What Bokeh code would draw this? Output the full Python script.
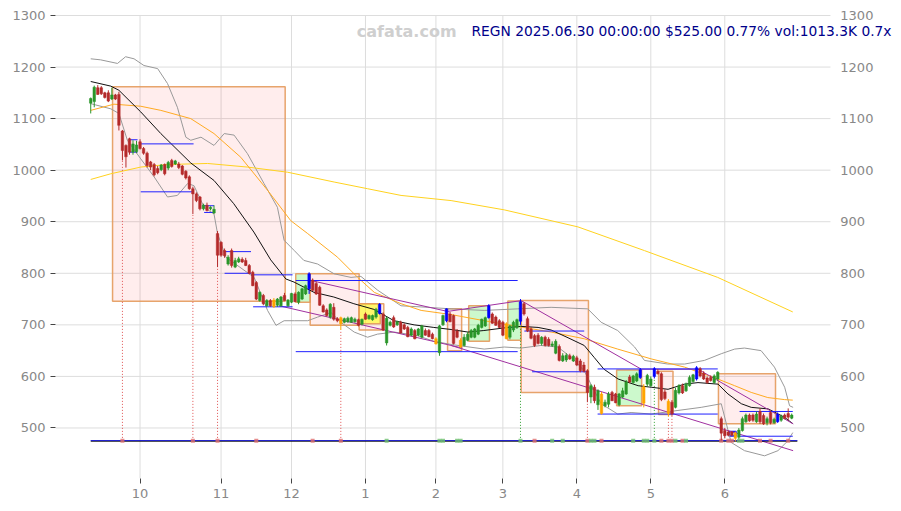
from bokeh.plotting import figure
from bokeh.models import ColumnDataSource, FixedTicker, Label, Range1d
from bokeh.embed import file_html
from bokeh.resources import INLINE

# ---------------- data (candle index 0 = 2024-09-11 ... 199 = 2025-06-30) ----------------
opens = [1130,1133,1160,1160,1150,1150,1138,1146,1147,1076,
         1048,1061,1035,1036,1055,1042,1033,1016,1011,1003,
         1001,1011,1004,1019,1012,1012,1008,998,987,964,
         954,948,925,932,925,917,877,860,844,818,
         844,812,822,827,825,815,802,782,747,757,
         737,747,748,738,737,757,737,744,760,744,
         750,760,770,787,780,773,737,729,715,734,
         712,714,705,706,705,706,710,701,721,712,
         710,715,722,721,665,699,714,700,705,700,
         695,680,689,680,676,689,689,682,673,646,
         700,708,721,718,688,670,660,670,676,676,
         682,695,698,714,721,715,708,705,702,676,
         690,695,707,741,712,692,679,680,664,676,
         672,660,645,658,630,632,640,630,636,630,
         622,611,560,579,545,566,543,546,569,566,
         545,560,566,599,588,591,598,580,585,582,
         600,610,605,570,552,550,540,568,582,572,
         582,590,595,615,606,597,598,588,595,518,
         495,492,492,490,482,495,512,525,525,512,
         532,524,510,530,510,512,515,525,528,519]
highs = [1141,1164,1165,1163,1152,1155,1160,1148,1152,1078,
         1050,1063,1058,1057,1060,1045,1036,1018,1014,1008,
         1012,1013,1018,1022,1020,1016,1010,1000,990,968,
         957,950,935,937,930,932,882,862,848,835,
         848,830,832,831,830,818,805,785,765,760,
         750,750,752,752,756,762,750,762,763,765,
         772,778,802,790,784,776,740,732,742,742,
         715,716,714,716,716,714,712,712,724,720,
         720,733,742,724,716,708,718,708,708,703,
         698,695,692,694,700,693,692,685,676,700,
         720,732,725,720,692,674,682,686,692,694,
         702,712,716,740,724,718,711,708,705,700,
         708,712,750,744,716,696,682,684,678,679,
         676,668,672,662,645,645,644,642,640,634,
         628,614,585,584,575,570,555,570,572,568,
         568,578,593,603,603,608,616,585,605,600,
         618,614,608,575,556,554,578,585,586,588,
         602,605,620,618,610,600,602,604,610,522,
         500,495,494,493,500,522,528,528,528,532,
         538,528,522,533,520,530,526,528,538,528]
lows = [1110,1122,1146,1146,1139,1132,1136,1136,1077,1019,
        1005,1030,1030,1033,1040,1030,1005,1000,988,992,
        998,990,1000,1005,1010,1002,990,982,962,915,
        938,922,922,920,922,915,812,832,830,815,
        811,810,820,820,814,798,775,748,745,738,
        735,735,733,735,735,747,735,742,744,740,
        748,758,760,766,758,737,724,716,712,708,
        705,690,703,704,704,704,697,699,710,710,
        708,712,720,688,660,697,694,698,683,690,
        676,678,672,678,674,679,676,672,662,640,
        698,705,705,662,674,655,658,668,674,674,
        680,693,696,712,702,698,694,678,672,672,
        686,692,700,718,686,672,657,662,660,658,
        658,657,643,629,628,628,632,628,620,608,
        608,550,548,548,535,526,540,540,552,548,
        542,558,564,587,586,589,595,540,580,580,
        596,604,552,554,522,524,538,565,566,570,
        580,588,592,598,593,586,590,586,592,476,
        480,484,484,474,478,493,510,512,512,510,
        508,506,505,507,508,510,512,517,515,517]
closes = [1139,1161,1147,1148,1141,1134,1146,1138,1087,1038,
          1026,1035,1051,1049,1042,1033,1009,1006,991,995,
          1010,993,1015,1007,1018,1005,992,985,964,954,
          941,925,932,922,928,924,835,835,834,831,
          815,825,828,822,815,800,776,750,763,741,
          747,737,735,750,754,747,748,761,745,763,
          770,776,799,767,760,738,725,718,740,711,
          708,702,712,713,714,711,699,711,711,718,
          718,730,740,690,713,705,696,706,684,692,
          677,692,673,692,698,680,677,673,663,698,
          718,731,706,664,676,657,676,682,689,692,
          699,711,714,737,703,699,695,680,673,698,
          705,710,745,721,688,674,660,664,676,660,
          660,663,668,631,640,641,634,639,622,611,
          610,569,582,553,572,528,550,566,553,549,
          566,572,589,589,601,605,613,548,602,595,
          615,605,555,557,528,528,573,582,568,585,
          598,603,617,601,595,588,592,601,608,490,
          485,486,486,480,496,518,525,514,515,527,
          512,508,518,510,517,526,522,519,521,525]
blue_candles = [62, 82, 101, 113, 122, 156, 160, 172, 195]
orange_candles = [52, 71, 98, 105, 118, 145, 157, 164, 183]

month_ticks = [14, 37, 57, 78, 98, 117, 138, 159, 180]
month_labels = ["10", "11", "12", "1", "2", "3", "4", "5", "6"]
price_ticks = [500, 600, 700, 800, 900, 1000, 1100, 1200, 1300]

# moving average / band lines (index, value)
black_x = [0,5.7,8,14.2,19.9,28.4,35,40.6,46.3,51.1,55.4,57.7,63.4,69,74.7,80.4,86.1,91.8,97.4,102.3,
           107.1,111.6,117.3,122.2,127,130.7,135.5,140.1,142.9,145.7,149.7,155.4,159.1,163.9,168.5,
           172.4,178.1,180.9,184.7,187.5,192.3,196.9,199.4]
black_v = [1172,1163,1155,1113,1071,1014,980,935,880,826,789,783,763,754,741,730,708,700,695,691,
           686,689,694,697,695,690,675,660,637,614,595,582,579,575,585,588,585,566,547,540,537,521,508]
upper_x = [0,2.8,7.6,9.9,12.3,15.1,19,21.8,24.6,27,28.4,31.3,35,37.9,40.7,44.5,49.2,53,54.9,57.8,
           60.5,64.4,69.1,73.9,76.7,81.5,88.1,95.7,102.3,111.7,121.2,130.7,141.1,144.9,149.6,154.4,
           157.2,163.8,168.6,174.2,179,182.8,185.6,190.3,194.1,197,198.4,199.4]
upper_v = [1216,1214,1207,1220,1216,1203,1197,1168,1122,1064,1058,1064,1048,1071,1068,1032,974,928,
           864,844,825,818,799,792,794,767,737,734,731,728,731,734,731,705,689,657,631,624,624,631,
           644,653,655,650,618,579,543,540]
lower_x = [0,5.7,8,10.4,14.2,18,21.8,24.6,27.5,29.3,32.2,35,36,38.4,46.4,50.2,52.6,54.9,57.8,61.6,
           64.4,68.2,71,74.8,78.6,81.4,86.2,92.8,97.5,102.3,111.7,117.4,122.2,127.8,132.6,136.4,
           140.1,142,144.9,149.6,153.4,159.1,166.7,173.3,179,181.8,185.6,191.3,195.1,197.9,199.3]
lower_v = [1129,1119,1110,1058,1022,987,948,951,974,970,928,915,877,831,792,728,699,708,708,708,
           715,724,705,686,676,682,686,679,668,662,653,657,655,660,657,637,611,585,547,527,530,527,
           534,540,547,472,456,446,456,475,491]
orange_x = [0,6.6,14.2,19.9,28.4,35,42.6,50.2,56.8,61.6,70.1,75.8,80.5,88.1,93.8,102.3,111.7,121.2,
            130.7,140.1,149.6,159.1,168.6,178,182.8,187.5,192.2,197,199.3]
orange_v = [1116,1128,1124,1116,1100,1071,1025,961,902,877,831,792,763,741,728,720,708,697,686,673,
            653,634,618,595,582,569,559,555,554]
yellow_x = [0,5.7,14.2,21.8,33.2,44.5,55.9,69.1,78.6,88.1,102.3,117.4,138.3,157.2,178,199.3]
yellow_v = [982,993,1006,1011,1013,1006,996,977,964,951,941,923,890,844,792,725]

# trend lines (purple)
trend_x0 = [62.5, 101.3, 122.2, 156.3, 172.4, 53.5, 102.3]
trend_v0 = [786, 726, 747, 614, 614, 737, 660]
trend_x1 = [101.3, 122.2, 156.3, 172.4, 199.4, 105.5, 199.4]
trend_v1 = [726, 747, 614, 614, 508, 655, 456]

# horizontal levels (blue)
level_x0 = [10.9,10.9,14.2,14.2,31.7,32.2,37.9,38,45.5,46.1,58.2,58.2,123.1,125.3,143.9,143.9,184.2,184.2]
level_x1 = [13.3,13.3,29.2,29.2,35,35,45.5,45.5,57.3,57.3,121.2,121.2,140.1,141.1,178,178,199.3,199.3]
level_v  = [1059,1035,1051,958,931,918,842,800,797,735,786,648,688,609,614.5,527,532,484]

# zones
box_left   = [6.2, 58.2, 62.3, 76.2, 76.2, 101.3, 107.3, 118.4, 122.2, 149.3, 161.2, 178.2, 181.2]
box_right  = [55.2, 62.3, 76.2, 83.2, 82.2, 105.3, 113.2, 122.2, 141.3, 156.4, 165.3, 194.4, 183.2]
box_bottom = [746, 744, 699, 690, 702, 650, 668, 670, 569, 543, 526, 508, 484.5]
box_top    = [1162, 799, 799, 741, 741, 731, 737, 746.5, 747, 612.6, 610, 605, 493]
box_kind   = ["pink", "green", "pink", "pink", "yellow", "pink", "green", "green", "pink",
              "green", "pink", "pink", "blue"]

# signals
signal_level = 475
red_signals = [9, 29, 36, 47, 63, 71, 126, 141, 145, 162, 164, 165, 168, 179, 181, 182, 190, 193, 198]
green_signals = [84, 99, 100, 104, 105, 122, 131, 134, 142, 143, 154, 157, 158, 160, 166, 169, 184, 185]
red_drops = [9, 29, 36, 71, 141, 164, 165]
green_drops = [122, 160]

title_text = "REGN 2025.06.30 00:00:00 $525.00 0.77% vol:1013.3K 0.7x"
watermark = "cafata.com"

# ---------------- styling ----------------
GREEN = "#2a962a"
RED = "#b42a2a"
BLUE = "#0000ff"
ORANGE = "#ffa500"
FONT = "DejaVu Sans"
X_LEFT, X_RIGHT = -10, 210          # price-area extent in candle index units
X_VIEW_END = 229.6                  # extra room on the right for the right-hand price labels
Y_LOW, Y_HIGH, Y_VIEW_TOP = 402, 1300, 1315.5

n = len(opens)
idx = list(range(n))
colors = []
for i in idx:
    if i in blue_candles:
        colors.append(BLUE)
    elif i in orange_candles:
        colors.append(ORANGE)
    elif closes[i] >= opens[i]:
        colors.append(GREEN)
    else:
        colors.append(RED)

src = ColumnDataSource(dict(
    x=idx, o=opens, h=highs, l=lows, c=closes,
    top=[max(a, b) for a, b in zip(opens, closes)],
    bot=[min(a, b) for a, b in zip(opens, closes)],
    color=colors))

p = figure(width=900, height=510, x_range=Range1d(X_LEFT, X_VIEW_END), y_range=Range1d(Y_LOW, Y_VIEW_TOP),
           output_backend="svg", toolbar_location=None,
           min_border_left=55, min_border_right=1, min_border_top=7, min_border_bottom=32)
p.outline_line_color = None
p.background_fill_color = "white"

# axes
p.yaxis.ticker = FixedTicker(ticks=price_ticks)
p.xaxis.ticker = FixedTicker(ticks=month_ticks)
p.xaxis.major_label_overrides = {t: l for t, l in zip(month_ticks, month_labels)}
for ax in p.xaxis + p.yaxis:
    ax.axis_line_color = None
    ax.minor_tick_line_color = None
    ax.major_tick_line_color = "#444444"
    ax.major_tick_out = 5
    ax.major_tick_in = 0
    ax.major_label_text_color = "#888888"
    ax.major_label_text_font = FONT
    ax.major_label_text_font_size = "13px"
    ax.major_label_standoff = 5
p.xgrid.grid_line_color = None
p.ygrid.grid_line_color = None

# grid limited to the price area + right-hand price labels
p.segment(x0=[X_LEFT] * len(price_ticks), y0=price_ticks, x1=[X_RIGHT] * len(price_ticks),
          y1=price_ticks, line_color="#dddddd", line_width=1)
p.segment(x0=month_ticks, y0=[Y_LOW] * len(month_ticks), x1=month_ticks,
          y1=[Y_HIGH] * len(month_ticks), line_color="#dddddd", line_width=1)
p.text(x=[X_RIGHT + 2.8] * len(price_ticks), y=price_ticks, text=[str(t) for t in price_ticks],
       text_align="left", text_baseline="middle", text_font={"value": FONT},
       text_font_size="13px", text_color="#888888")

# zones
fills = {"pink": ("#ff0000", 0.07, "#e49a5c"), "green": ("#00e000", 0.2, "#e49a5c"),
         "yellow": ("#ffff00", 0.55, "#e49a5c"), "blue": ("#0000ff", 0.12, "#0000ff")}
for l, r, b, t, k in zip(box_left, box_right, box_bottom, box_top, box_kind):
    fc, fa, lc = fills[k]
    p.quad(left=l, right=r, bottom=b, top=t, fill_color=fc, fill_alpha=fa,
           line_color=lc, line_width=1.5, line_alpha=0.9)

# lines
p.line(upper_x, upper_v, line_color="#999999", line_width=1)
p.line(lower_x, lower_v, line_color="#999999", line_width=1)
p.line(yellow_x, yellow_v, line_color="#ffd21f", line_width=1)
p.line(orange_x, orange_v, line_color="#ffaa22", line_width=1)
p.line(black_x, black_v, line_color="#111111", line_width=1)
p.segment(x0=trend_x0, y0=trend_v0, x1=trend_x1, y1=trend_v1, line_color="#a030a0", line_width=1)
p.segment(x0=level_x0, y0=level_v, x1=level_x1, y1=level_v, line_color="#2020ff", line_width=1)

# signal drop lines
p.segment(x0=red_drops, y0=[signal_level] * len(red_drops), x1=red_drops,
          y1=[lows[i] for i in red_drops], line_color="#e05050", line_width=1, line_dash="1 2")
p.segment(x0=green_drops, y0=[signal_level] * len(green_drops), x1=green_drops,
          y1=[lows[i] for i in green_drops], line_color="#30a030", line_width=1, line_dash="1 2")

# base line
p.segment(x0=[0], y0=[signal_level - 0.6], x1=[200.6], y1=[signal_level - 0.6], line_color="#000000", line_width=1)
p.segment(x0=[0], y0=[signal_level + 0.6], x1=[200.6], y1=[signal_level + 0.6], line_color="#1c1cd0", line_width=1)
p.scatter(red_signals, [signal_level] * len(red_signals), marker="square", size=4,
          fill_color="#e07070", line_color=None, fill_alpha=0.8)
p.scatter(green_signals, [signal_level] * len(green_signals), marker="square", size=4,
          fill_color="#70c070", line_color=None, fill_alpha=0.8)

# candles
p.segment(x0="x", y0="l", x1="x", y1="h", line_color="color", line_width=1, source=src)
p.vbar(x="x", width=0.72, top="top", bottom="bot", fill_color="color", line_color="color",
       line_width=0.5, source=src)

# texts
p.add_layout(Label(x=89.7, y=1269.5, text=watermark, text_align="center", text_baseline="middle",
                   text_font=FONT, text_font_style="bold", text_font_size="16px", text_color="#cfcfcf"))
p.add_layout(Label(x=108.1, y=1269.5, text=title_text, text_align="left", text_baseline="middle",
                   text_font=FONT, text_font_size="13.8px", text_color="#00008b"))

open("out.html", "w").write(file_html(p, INLINE))
